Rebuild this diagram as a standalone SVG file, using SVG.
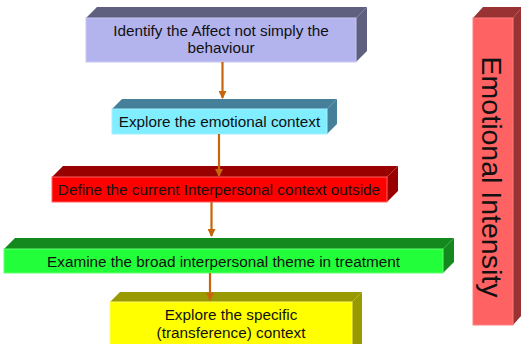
<svg xmlns="http://www.w3.org/2000/svg" width="521" height="344" viewBox="0 0 521 344">
<defs>
<style>
text{font-family:"Liberation Sans",Arial,sans-serif;font-size:15.3px;fill:#111;text-anchor:middle}
.conn line{stroke:#c8650a;stroke-width:2.2}
</style>
<marker id="ah" markerWidth="8" markerHeight="8" refX="7" refY="4" orient="auto" markerUnits="userSpaceOnUse">
<path d="M0,0 L8,4 L0,8 Z" fill="#c8650a"/>
</marker>
</defs>
<rect width="521" height="344" fill="#fff"/>
<g id="n1">
<polygon points="86,18 97,7 367,7 356,18" fill="#5f5f80"/>
<polygon points="356,18 367,7 367,51 356,62" fill="#5f5f80"/>
<rect x="86" y="18" width="270" height="44" fill="#b3b3ee" stroke="#c8c8f4" stroke-width="1"/>
<text x="221" y="36">Identify the Affect not simply the</text>
<text x="221" y="53">behaviour</text>
</g>
<g id="n2">
<polygon points="112,109 122,99 337,99 327,109" fill="#457f99"/>
<polygon points="327,109 337,99 337,124 327,134" fill="#457f99"/>
<rect x="112" y="109" width="215" height="25" fill="#80eeff" stroke="#a0f2ff" stroke-width="1"/>
<text x="219.5" y="127">Explore the emotional context</text>
</g>
<g id="n3">
<polygon points="52,177 63,166 398,166 387,177" fill="#990000"/>
<polygon points="387,177 398,166 398,191 387,202" fill="#990000"/>
<rect x="52" y="177" width="335" height="25" fill="#ff0000" stroke="#ff6060" stroke-width="1"/>
<text x="219" y="195">Define the current Interpersonal context outside</text>
</g>
<g id="n4">
<polygon points="4,249 15,238 454,238 443,249" fill="#148a1e"/>
<polygon points="443,249 454,238 454,262 443,273" fill="#148a1e"/>
<rect x="4" y="249" width="439" height="24" fill="#22ff3a" stroke="#60ff70" stroke-width="1"/>
<text x="223.5" y="267">Examine the broad interpersonal theme in treatment</text>
</g>
<g id="n5">
<polygon points="110,302 120,292 362,292 352,302" fill="#999900"/>
<polygon points="352,302 362,292 362,345 352,345" fill="#999900"/>
<rect x="110" y="302" width="242" height="44" fill="#ffff00" stroke="#ffff60" stroke-width="1"/>
<text x="231" y="320">Explore the specific</text>
<text x="231" y="338">(transference) context</text>
</g>
<g id="n6">
<polygon points="473,18 483,7 522,7 513,18" fill="#993333"/>
<polygon points="513,18 522,7 522,315 513,325" fill="#993333"/>
<rect x="473" y="18" width="40" height="307" fill="#ff6262" stroke="#ff8080" stroke-width="1"/>
<text transform="translate(482,177) rotate(90)" style="font-size:28.5px">Emotional Intensity</text>
</g>
<g class="conn" id="connectors">
<line x1="222.5" y1="62" x2="222.5" y2="98" marker-end="url(#ah)"/>
<line x1="219" y1="134" x2="219" y2="176" marker-end="url(#ah)"/>
<line x1="211.5" y1="202" x2="211.5" y2="236" marker-end="url(#ah)"/>
<line x1="210" y1="273" x2="210" y2="300" marker-end="url(#ah)"/>
</g>
</svg>
